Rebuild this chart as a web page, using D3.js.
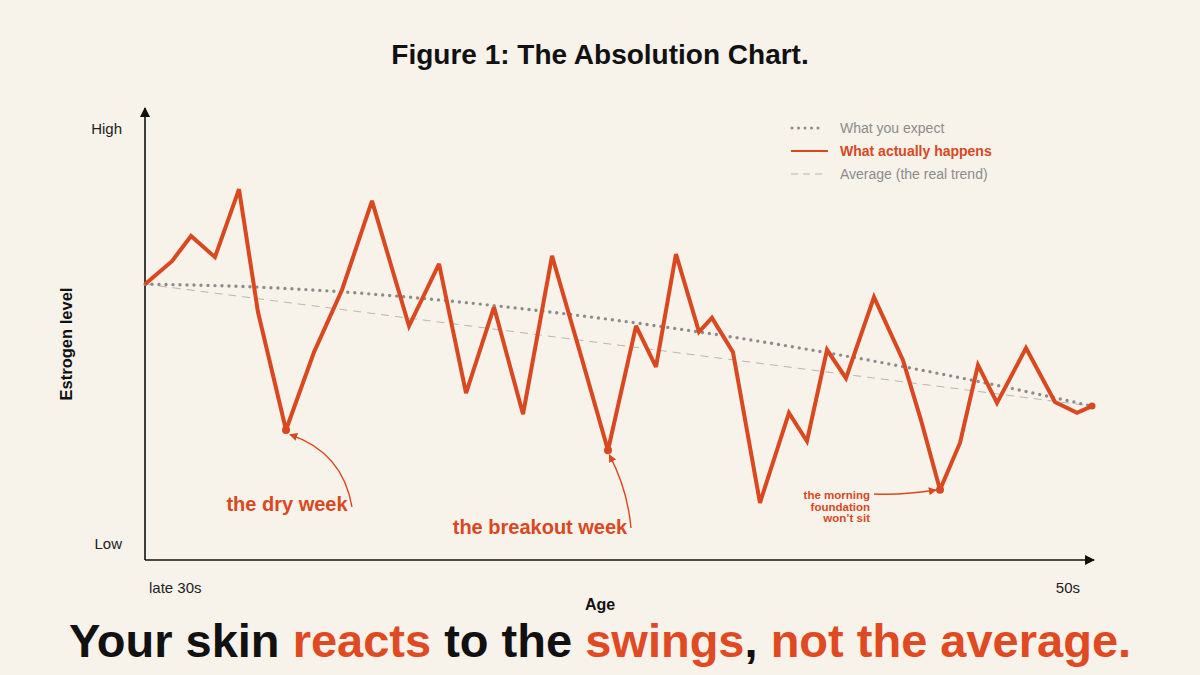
<!DOCTYPE html>
<html>
<head>
<meta charset="utf-8">
<script src="https://cdn.jsdelivr.net/npm/d3@7"></script>
<style>
  body { margin: 0; background: #f7f2ea; }
  svg { display: block; font-family: "Liberation Sans", Arial, sans-serif; }
</style>
</head>
<body>
<svg id="chart" width="1200" height="675"></svg>
<script>
// age position along the x axis (0 = late 30s, 100 = 50s)
var ages = [0, 2.85, 4.86, 7.39, 9.93, 11.93, 14.89, 17.85, 20.8, 23.97, 27.88, 31.05, 33.9, 36.85,
  39.92, 42.98, 45.93, 48.89, 51.85, 53.96, 56.07, 58.5, 59.87, 62.09, 64.94, 68, 69.9, 72.02,
  74.02, 76.98, 80.04, 81.94, 83.95, 86.06, 87.96, 89.97, 93.03, 96.09, 98.42, 100];
// what actually happens (0 = low, 100 = high)
var actual = [61.3, 66.4, 72, 67.3, 82.4, 55.1, 28.9, 46.2, 60, 79.8, 52, 65.8, 37.1, 56.2,
  32.4, 67.6, 46.2, 24.4, 52, 42.9, 68, 50.7, 53.8, 46.2, 12.7, 32.7, 26.4, 46.7,
  40.4, 58.4, 44.4, 31.1, 15.6, 26, 43.3, 34.9, 47.1, 35.1, 32.7, 34.2];
// what you expect
var expectAges = [0, 10, 20, 30, 40, 50, 60, 70, 80, 90, 100];
var expected = [61.3, 60.8, 59.7, 58.0, 55.8, 53.2, 50.2, 46.8, 43.0, 38.8, 34.2];
// average (the real trend)
var avgAges = [0, 100];
var average = [61.3, 34.2];

var legendLabels = ["What you expect", "What actually happens", "Average (the real trend)"];
var annotations = [
  { idx: 6, lines: ["the dry week"], tx: 287, ty: 511, size: 20, anchor: "middle", from: [352, 507], bend: 0.3 },
  { idx: 17, lines: ["the breakout week"], tx: 540, ty: 534, size: 20, anchor: "middle", from: [631, 528], bend: 0.1 },
  { idx: 32, lines: ["the morning", "foundation", "won\u2019t sit"], tx: 870, ty: 499, size: 11.5, anchor: "end", from: [874, 494], bend: 0.05 }
];

var red = "#d9481f";
var gray = "#8c8c8c";

var svg = d3.select("#chart");
var x0 = 145, x1 = 1092, yBottom = 560, yTop = 110;

var x = d3.scaleLinear().domain([0, 100]).range([x0, x1]);
var y = d3.scaleLinear().domain([0, 100]).range([yBottom, yTop]);

// arrow markers
var defs = svg.append("defs");
defs.append("marker").attr("id", "axisArrow")
  .attr("viewBox", "0 0 10 10").attr("refX", 9).attr("refY", 5)
  .attr("markerWidth", 10).attr("markerHeight", 10).attr("markerUnits", "userSpaceOnUse")
  .attr("orient", "auto")
  .append("path").attr("d", "M0,0L10,5L0,10Z").attr("fill", "#111");
defs.append("marker").attr("id", "redArrow")
  .attr("viewBox", "0 0 10 10").attr("refX", 9).attr("refY", 5)
  .attr("markerWidth", 8).attr("markerHeight", 8).attr("markerUnits", "userSpaceOnUse")
  .attr("orient", "auto")
  .append("path").attr("d", "M0,0L10,5L0,10Z").attr("fill", red);

// title
svg.append("text").attr("x", 600).attr("y", 64)
  .attr("text-anchor", "middle").attr("font-size", 28).attr("font-weight", "bold")
  .attr("fill", "#111").text("Figure 1: The Absolution Chart.");

// axes
svg.append("line").attr("x1", x0).attr("y1", yBottom).attr("x2", x0).attr("y2", 108)
  .attr("stroke", "#111").attr("stroke-width", 1.6).attr("marker-end", "url(#axisArrow)");
svg.append("line").attr("x1", x0).attr("y1", yBottom).attr("x2", 1094).attr("y2", yBottom)
  .attr("stroke", "#111").attr("stroke-width", 1.6).attr("marker-end", "url(#axisArrow)");

svg.append("text").attr("x", 122).attr("y", 134).attr("text-anchor", "end")
  .attr("font-size", 15).attr("fill", "#222").text("High");
svg.append("text").attr("x", 122).attr("y", 549).attr("text-anchor", "end")
  .attr("font-size", 15).attr("fill", "#222").text("Low");
svg.append("text").attr("x", 149).attr("y", 593)
  .attr("font-size", 15).attr("fill", "#222").text("late 30s");
svg.append("text").attr("x", 1080).attr("y", 593).attr("text-anchor", "end")
  .attr("font-size", 15).attr("fill", "#222").text("50s");
svg.append("text").attr("x", 600).attr("y", 610).attr("text-anchor", "middle")
  .attr("font-size", 16).attr("font-weight", "bold").attr("fill", "#111").text("Age");
svg.append("text").attr("transform", "translate(72,344) rotate(-90)")
  .attr("text-anchor", "middle").attr("font-size", 16.5).attr("font-weight", "bold")
  .attr("fill", "#111").text("Estrogen level");

// average dashed line
svg.append("path")
  .datum(avgAges.map(function(a, i) { return [a, average[i]]; }))
  .attr("fill", "none").attr("stroke", "#b9b6b0").attr("stroke-width", 1)
  .attr("stroke-dasharray", "8 6")
  .attr("d", d3.line().x(function(d) { return x(d[0]); }).y(function(d) { return y(d[1]); }));

// expected dotted curve
svg.append("path")
  .datum(expectAges.map(function(a, i) { return [a, expected[i]]; }))
  .attr("fill", "none").attr("stroke", gray).attr("stroke-width", 3.4)
  .attr("stroke-linecap", "round").attr("stroke-dasharray", "0 7")
  .attr("d", d3.line().curve(d3.curveMonotoneX)
    .x(function(d) { return x(d[0]); }).y(function(d) { return y(d[1]); }));

// actual line
svg.append("path")
  .datum(ages.map(function(a, i) { return [a, actual[i]]; }))
  .attr("fill", "none").attr("stroke", red).attr("stroke-width", 4)
  .attr("stroke-linejoin", "miter").attr("stroke-miterlimit", 3)
  .attr("d", d3.line().x(function(d) { return x(d[0]); }).y(function(d) { return y(d[1]); }));

// end dot
svg.append("circle").attr("cx", x(ages[ages.length - 1])).attr("cy", y(actual[actual.length - 1]))
  .attr("r", 3.5).attr("fill", red);

// annotations
annotations.forEach(function(a) {
  var px = x(ages[a.idx]), py = y(actual[a.idx]);
  svg.append("circle").attr("cx", px).attr("cy", py).attr("r", 4).attr("fill", red);
  var sx = a.from[0], sy = a.from[1];
  var ex = px + (sx - px) * 0.06, ey = py + (sy - py) * 0.06;
  var mx = (sx + ex) / 2, my = (sy + ey) / 2;
  var dx = ex - sx, dy = ey - sy;
  var cx = mx - dy * a.bend, cy = my + dx * a.bend;
  svg.append("path")
    .attr("d", "M" + sx + "," + sy + "Q" + cx + "," + cy + " " + ex + "," + ey)
    .attr("fill", "none").attr("stroke", red).attr("stroke-width", 1.4)
    .attr("marker-end", "url(#redArrow)");
  var t = svg.append("text").attr("text-anchor", a.anchor)
    .attr("font-size", a.size).attr("font-weight", "bold").attr("fill", red);
  a.lines.forEach(function(l, i) {
    t.append("tspan").attr("x", a.tx).attr("y", a.ty + i * a.size).text(l);
  });
});

// legend
var lg = svg.append("g").attr("transform", "translate(791,128)");
lg.append("line").attr("x1", 1).attr("x2", 32).attr("y1", 0).attr("y2", 0)
  .attr("stroke", gray).attr("stroke-width", 3).attr("stroke-linecap", "round")
  .attr("stroke-dasharray", "0 6.5");
lg.append("line").attr("x1", 0).attr("x2", 37).attr("y1", 23).attr("y2", 23)
  .attr("stroke", red).attr("stroke-width", 2.2);
lg.append("line").attr("x1", 0).attr("x2", 34).attr("y1", 46).attr("y2", 46)
  .attr("stroke", "#b9b6b0").attr("stroke-width", 1.2).attr("stroke-dasharray", "7 5");
legendLabels.forEach(function(l, i) {
  lg.append("text").attr("x", 49).attr("y", i * 23 + 5)
    .attr("font-size", 14)
    .attr("font-weight", i === 1 ? "bold" : "normal")
    .attr("fill", i === 1 ? red : gray).text(l);
});

// headline
var parts = [["Your skin ", "#111"], ["reacts", "#e04a22"], [" to the ", "#111"],
  ["swings", "#e04a22"], [", ", "#111"], ["not the average.", "#e04a22"]];
var hl = svg.append("text").attr("x", 600).attr("y", 657).attr("text-anchor", "middle")
  .attr("font-size", 47).attr("font-weight", "bold");
parts.forEach(function(p) {
  hl.append("tspan").attr("fill", p[1]).text(p[0]);
});
</script>
</body>
</html>
